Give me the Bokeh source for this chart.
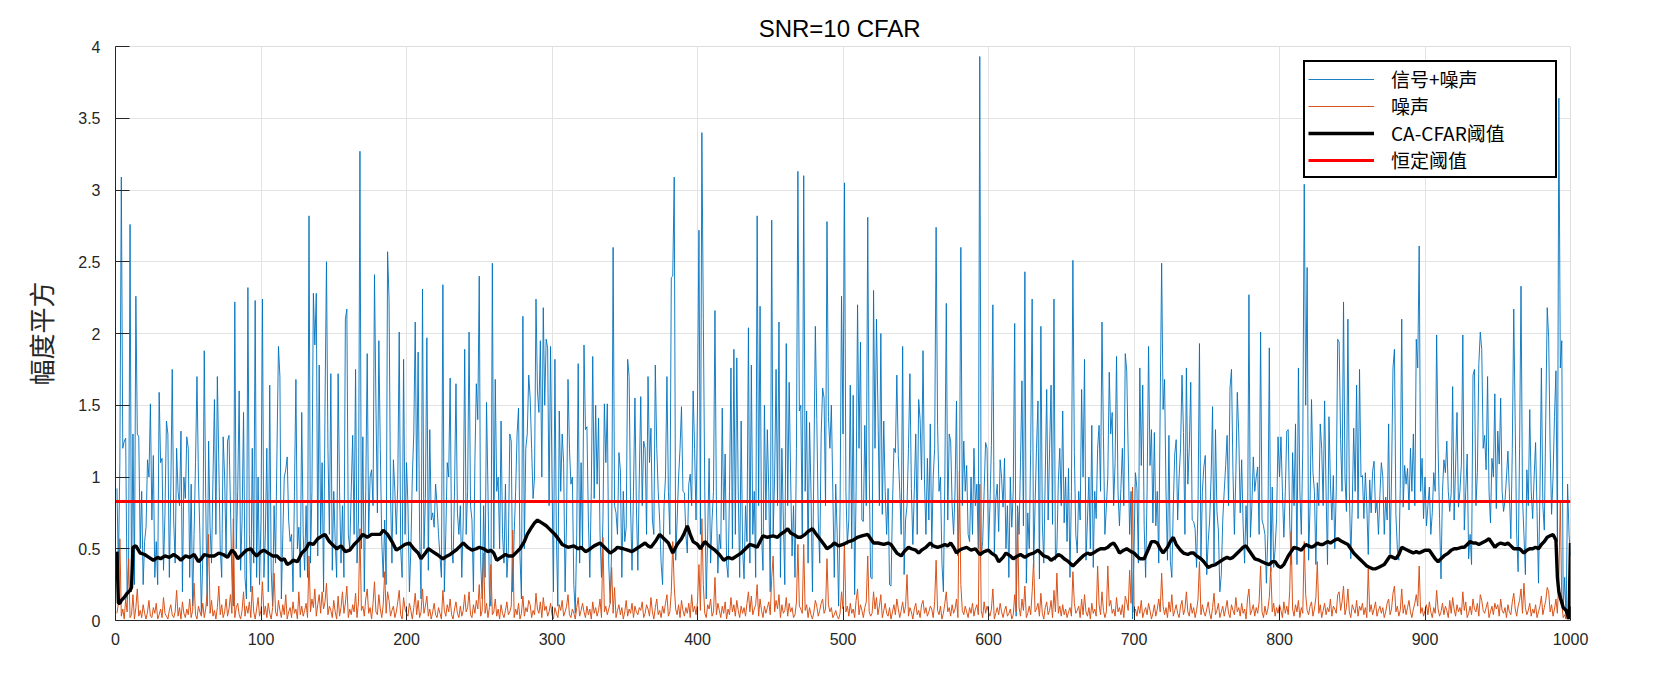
from bokeh.plotting import figure
from bokeh.models import Range1d, FixedTicker, Legend, LegendItem
from bokeh.embed import file_html
from bokeh.resources import INLINE

title_text = "SNR=10  CFAR"
y_label = "幅度平方"
legend_labels = ["信号+噪声", "噪声", "CA-CFAR阈值", "恒定阈值"]

x_ticks = [0, 100, 200, 300, 400, 500, 600, 700, 800, 900, 1000]
y_ticks = [0, 0.5, 1, 1.5, 2, 2.5, 3, 3.5, 4]
y_tick_labels = ["0", "0.5", "1", "1.5", "2", "2.5", "3", "3.5", "4"]

fixed_threshold = 0.83

signal_noise = [
    0.92, 0.35, 1.1, 3.09, 1.2, 1.25, 1.27, 0.15, 0.4, 2.76,
    0.2, 1.3, 0.25, 2.26, 1.3, 1.28, 0.5, 0.9, 0.25, 0.55,
    0.65, 1.12, 1.0, 1.51, 0.7, 1.15, 0.3, 0.55, 0.25, 1.59,
    1.1, 1.13, 0.35, 0.75, 1.39, 1.3, 0.3, 0.9, 1.75, 0.7,
    0.4, 1.2, 0.9, 0.8, 1.32, 0.2, 1.0, 0.85, 1.28, 1.2,
    0.3, 0.95, 0.1, 0.6, 1.1, 1.7, 1.0, 0.6, 0.05, 0.45,
    1.88, 0.85, 0.1, 1.25, 0.65, 0.4, 1.0, 1.54, 0.6, 1.7,
    1.1, 0.5, 0.3, 1.28, 1.0, 0.45, 1.25, 1.29, 0.8, 0.3,
    0.1, 2.22, 0.5, 0.9, 1.6, 0.35, 0.7, 1.45, 0.3, 0.15,
    2.32, 0.6, 0.2, 1.2, 0.4, 2.23, 0.3, 1.0, 0.25, 0.7,
    2.24, 0.3, 0.6, 1.2, 0.2, 1.64, 0.35, 0.1, 0.8, 0.4,
    1.2, 1.91, 1.7, 0.15, 0.6, 1.0, 1.05, 1.14, 0.7, 0.55,
    0.6, 0.2, 0.9, 1.68, 0.5, 0.65, 0.3, 1.45, 0.6, 0.35,
    0.8, 0.3, 2.82, 0.4, 0.9, 2.28, 1.92, 2.28, 0.45, 1.78,
    0.6, 1.1, 0.2, 1.5, 2.5, 1.2, 0.6, 1.72, 0.35, 0.9,
    0.55, 0.3, 1.72, 0.9, 0.4, 0.8, 0.3, 2.1, 2.17, 0.6,
    0.5, 0.9, 1.29, 0.6, 1.75, 0.4, 0.7, 3.27, 0.5, 1.28,
    0.2, 0.9, 1.86, 0.6, 1.0, 1.05, 0.8, 2.41, 1.5, 0.75,
    1.95, 1.2, 0.55, 0.3, 0.7, 0.25, 2.57, 2.24, 0.9, 0.4,
    1.12, 0.9, 0.6, 0.95, 2.01, 0.5, 0.3, 1.82, 0.6, 1.1,
    0.8, 0.2, 0.5, 1.0, 1.3, 2.08, 0.9, 1.87, 0.6, 0.15,
    2.31, 0.5, 0.85, 1.97, 0.35, 1.33, 0.7, 0.75, 0.65, 0.95,
    0.8, 0.6, 0.45, 0.3, 2.34, 0.2, 0.6, 1.1, 1.0, 1.69,
    0.5, 0.4, 0.9, 1.65, 0.75, 0.6, 0.8, 0.3, 0.7, 1.89,
    0.6, 0.9, 2.01, 0.8, 0.7, 0.2, 1.1, 1.65, 1.4, 2.4,
    0.4, 0.15, 0.8, 0.3, 1.52, 0.9, 0.2, 0.1, 2.49, 0.5,
    1.68, 0.9, 1.0, 0.5, 1.39, 0.6, 0.4, 0.95, 0.3, 0.5,
    1.3, 1.25, 0.2, 0.6, 0.9, 1.3, 1.48, 0.45, 0.15, 2.12,
    0.5, 1.2, 1.3, 1.71, 1.55, 1.2, 0.85, 1.0, 2.24, 1.6,
    1.45, 1.95, 1.0, 2.18, 1.5, 1.96, 1.9, 0.8, 1.91, 1.0,
    0.2, 1.82, 0.6, 0.1, 1.46, 0.9, 1.3, 1.1, 0.2, 0.7,
    1.68, 1.2, 0.95, 1.0, 0.25, 0.05, 0.6, 1.79, 0.4, 1.1,
    0.5, 1.92, 1.33, 1.35, 0.7, 0.3, 0.9, 1.84, 0.85, 1.5,
    0.95, 1.41, 0.6, 0.3, 0.7, 1.51, 1.1, 1.51, 0.4, 0.12,
    0.5, 2.6, 0.8, 0.75, 0.6, 1.17, 1.05, 0.3, 0.9, 0.55,
    0.65, 1.82, 1.7, 0.8, 0.35, 0.9, 1.55, 0.8, 0.35, 1.0,
    1.56, 0.8, 1.25, 1.2, 0.6, 1.7, 1.1, 1.34, 0.7, 0.6,
    1.78, 1.2, 0.9, 0.7, 0.4, 0.25, 0.8, 1.0, 1.7, 0.9,
    0.6, 2.39, 2.4, 3.09, 0.42, 0.7, 1.0, 1.2, 1.49, 0.9,
    0.89, 0.6, 0.47, 0.95, 1.02, 0.8, 1.6, 1.2, 0.7, 1.5,
    2.72, 0.6, 3.4, 2.1, 0.9, 0.15, 0.6, 1.13, 0.4, 0.7,
    0.9, 2.16, 0.8, 0.33, 0.6, 0.5, 1.48, 0.7, 1.16, 0.4,
    0.3, 0.9, 1.76, 0.5, 1.89, 0.6, 1.83, 0.9, 0.3, 1.39,
    0.5, 0.29, 0.8, 0.55, 2.04, 0.4, 1.78, 0.6, 0.9, 0.3,
    2.82, 0.8, 2.19, 0.6, 0.35, 1.5, 0.7, 1.33, 0.9, 0.2,
    2.79, 0.6, 1.0, 1.75, 0.8, 2.08, 0.3, 1.2, 0.7, 0.25,
    1.93, 0.8, 1.66, 1.0, 0.45, 0.8, 0.3, 1.2, 3.13, 1.46,
    1.5, 0.6, 3.1, 0.9, 1.46, 0.4, 1.38, 0.9, 0.2, 1.1,
    2.05, 1.4, 0.7, 0.4, 1.3, 1.62, 1.55, 0.8, 2.78, 1.42,
    1.2, 1.5, 0.9, 0.3, 0.95, 0.6, 0.1, 0.8, 2.26, 1.3,
    3.05, 0.9, 0.53, 0.7, 1.64, 0.5, 1.57, 0.18, 0.9, 2.2,
    1.2, 1.94, 0.7, 0.69, 1.36, 0.8, 2.81, 1.07, 0.3, 0.29,
    2.3, 1.2, 2.1, 1.48, 0.8, 2.0, 0.74, 1.39, 0.9, 0.6,
    0.92, 0.25, 0.24, 0.8, 1.2, 1.17, 1.71, 1.15, 0.9, 0.6,
    1.91, 0.32, 0.7, 0.8, 1.2, 1.72, 0.92, 0.53, 0.9, 1.3,
    0.6, 1.54, 1.4, 0.98, 1.88, 0.98, 0.6, 1.13, 0.7, 1.37,
    0.5, 1.0, 1.2, 2.74, 1.36, 0.9, 1.0, 0.4, 0.2, 1.0,
    2.21, 0.7, 1.3, 1.25, 0.8, 0.6, 0.9, 1.53, 0.45, 0.8,
    2.6, 0.8, 1.25, 0.9, 1.08, 0.6, 0.55, 1.0, 0.6, 1.2,
    0.8, 0.95, 0.5, 3.93, 0.45, 0.55, 0.9, 1.24, 1.2, 0.5,
    0.8, 1.22, 2.2, 0.47, 0.84, 0.95, 0.62, 1.12, 0.99, 0.79,
    1.13, 0.5, 0.8, 0.3, 1.0, 0.65, 0.9, 2.07, 0.03, 0.8,
    0.6, 1.1, 1.67, 0.66, 2.43, 0.26, 0.75, 0.5, 1.2, 2.24,
    0.37, 0.8, 1.2, 1.53, 0.29, 2.05, 0.68, 0.4, 1.0, 1.61,
    0.7, 1.2, 1.64, 0.67, 2.24, 0.42, 0.5, 0.97, 1.2, 0.8,
    1.46, 0.68, 1.0, 0.55, 1.06, 0.3, 0.9, 2.51, 1.17, 0.6,
    0.47, 0.9, 0.7, 1.61, 1.0, 1.82, 0.42, 0.7, 1.0, 0.5,
    1.36, 0.37, 0.9, 0.71, 1.2, 1.36, 0.9, 2.08, 1.28, 0.6,
    0.79, 1.0, 1.73, 1.3, 1.45, 0.8, 1.1, 1.84, 0.9, 0.66,
    0.92, 1.2, 0.8, 1.86, 1.74, 1.18, 0.6, 0.9, 0.01, 0.5,
    1.03, 0.92, 0.4, 1.76, 1.08, 1.64, 0.66, 0.3, 0.9, 1.91,
    1.08, 1.33, 0.68, 1.31, 0.66, 0.9, 0.4, 1.5, 2.49, 1.47,
    1.68, 0.9, 0.42, 1.29, 0.41, 0.3, 0.8, 1.16, 1.26, 0.7,
    1.0, 1.2, 1.71, 1.31, 0.6, 1.76, 0.95, 1.2, 1.66, 0.7,
    0.69, 0.64, 0.37, 0.8, 1.93, 0.43, 0.9, 1.07, 1.15, 0.32,
    0.55, 0.7, 1.0, 1.49, 0.4, 1.33, 0.76, 0.63, 0.2, 0.32,
    0.7, 0.9, 1.08, 1.29, 0.8, 1.62, 1.75, 1.04, 0.6, 1.02,
    1.59, 1.3, 0.75, 1.12, 0.67, 0.4, 0.8, 0.5, 2.27, 0.58,
    0.8, 1.14, 0.9, 1.0, 1.07, 0.6, 2.01, 0.7, 0.66, 0.6,
    0.26, 0.6, 1.9, 0.34, 0.93, 0.37, 0.5, 0.71, 1.28, 1.0,
    1.28, 0.9, 0.58, 0.9, 1.32, 1.33, 0.7, 0.39, 1.17, 0.8,
    1.37, 0.39, 1.76, 0.9, 0.6, 1.2, 3.04, 1.5, 2.46, 0.42,
    0.8, 1.54, 1.03, 0.9, 0.39, 0.96, 0.8, 1.37, 1.2, 0.8,
    1.53, 0.9, 0.39, 1.42, 0.95, 0.7, 1.01, 0.5, 0.9, 1.96,
    1.94, 1.26, 0.9, 2.22, 1.0, 0.76, 2.1, 0.9, 0.43, 0.8,
    1.34, 0.9, 1.64, 0.71, 1.75, 1.0, 1.01, 0.71, 1.03, 0.8,
    0.46, 0.98, 0.75, 1.04, 1.11, 0.75, 0.83, 0.6, 0.87, 1.1,
    1.0, 0.6, 0.86, 0.7, 1.37, 0.46, 1.0, 1.76, 1.89, 0.74,
    0.5, 0.42, 0.92, 2.1, 0.79, 1.08, 0.95, 1.06, 0.77, 1.2,
    0.9, 1.3, 0.8, 1.96, 1.76, 2.61, 0.9, 1.13, 0.71, 1.0,
    0.66, 0.8, 0.93, 0.6, 0.75, 1.03, 0.9, 1.99, 1.2, 0.71,
    0.29, 0.9, 1.12, 1.03, 1.25, 0.9, 0.76, 0.89, 1.63, 0.7,
    1.07, 1.45, 0.79, 0.9, 1.09, 1.99, 0.63, 0.9, 1.16, 0.43,
    0.6, 0.39, 1.71, 1.75, 0.8, 1.03, 1.79, 2.01, 1.89, 1.2,
    1.29, 1.05, 1.7, 0.9, 0.68, 1.13, 1.0, 1.58, 0.78, 1.32,
    1.09, 1.55, 0.9, 0.76, 0.84, 1.0, 1.18, 0.89, 0.57, 1.2,
    2.17, 1.37, 0.6, 0.34, 1.2, 2.33, 0.86, 0.6, 0.32, 1.05,
    0.8, 1.47, 0.9, 0.71, 1.0, 1.24, 0.76, 0.26, 0.9, 1.76,
    0.8, 0.63, 1.4, 2.18, 1.97, 1.2, 0.74, 1.0, 1.42, 1.74,
    0.55, 3.64, 1.76, 1.95, 0.08, 0.3, 0.01, 0.95, 0.6, 0.45,
]

noise = [
    0.05, 0.12, 0.57, 0.03, 0.08, 0.01, 0.15, 0.06, 0.43, 0.02,
    0.04, 0.18, 0.01, 0.09, 0.22, 0.03, 0.07, 0.02, 0.11, 0.05,
    0.01, 0.06, 0.14, 0.03, 0.02, 0.09, 0.05, 0.12, 0.01, 0.04,
    0.08, 0.02, 0.16, 0.05, 0.03, 0.01, 0.07, 0.11, 0.04, 0.02,
    0.06, 0.21, 0.03, 0.09, 0.01, 0.13, 0.05, 0.02, 0.08, 0.04,
    0.15, 0.02, 0.07, 0.26, 0.04, 0.01, 0.1, 0.06, 0.03, 0.12,
    0.02, 0.08, 0.19, 0.6, 0.05, 0.14, 0.03, 0.07, 0.01, 0.09,
    0.24, 0.04, 0.11, 0.02, 0.06, 0.15, 0.03, 0.08, 0.18, 0.05,
    0.71, 0.02, 0.09, 0.12, 0.04, 0.01, 0.07, 0.2, 0.03, 0.1,
    0.05, 0.13, 0.02, 0.24, 0.06, 0.01, 0.08, 0.16, 0.03, 0.07,
    0.27, 0.04, 0.1, 0.02, 0.12, 0.05, 0.01, 0.09, 0.33, 0.06,
    0.03, 0.14, 0.07, 0.02, 0.11, 0.04, 0.18, 0.01, 0.06, 0.09,
    0.02, 0.13, 0.05, 0.08, 0.01, 0.2, 0.04, 0.1, 0.03, 0.07,
    0.12, 0.02, 0.45, 0.06, 0.15, 0.09, 0.22, 0.03, 0.11, 0.18,
    0.05, 0.2, 0.08, 0.13, 0.26, 0.04, 0.1, 0.07, 0.02, 0.14,
    0.06, 0.01, 0.17, 0.03, 0.09, 0.2, 0.05, 0.12, 0.24, 0.02,
    0.08, 0.04, 0.11, 0.06, 0.19, 0.02, 0.13, 0.64, 0.07, 0.1,
    0.03, 0.15, 0.22, 0.05, 0.09, 0.01, 0.12, 0.27, 0.06, 0.04,
    0.18, 0.08, 0.02, 0.11, 0.34, 0.05, 0.2, 0.14, 0.03, 0.07,
    0.1, 0.02, 0.06, 0.13, 0.21, 0.04, 0.01, 0.16, 0.08, 0.05,
    0.03, 0.12, 0.07, 0.01, 0.09, 0.19, 0.04, 0.14, 0.02, 0.06,
    0.22, 0.05, 0.1, 0.17, 0.03, 0.08, 0.01, 0.06, 0.12, 0.04,
    0.02, 0.09, 0.05, 0.01, 0.21, 0.07, 0.03, 0.11, 0.06, 0.15,
    0.04, 0.01, 0.08, 0.13, 0.05, 0.02, 0.1, 0.03, 0.07, 0.18,
    0.06, 0.09, 0.2, 0.04, 0.02, 0.11, 0.05, 0.14, 0.08, 0.25,
    0.03, 0.07, 0.47, 0.05, 0.12, 0.02, 0.09, 0.39, 0.04, 0.06,
    0.15, 0.03, 0.08, 0.01, 0.11, 0.05, 0.02, 0.07, 0.13, 0.04,
    0.06, 0.1, 0.63, 0.02, 0.08, 0.04, 0.12, 0.01, 0.05, 0.17,
    0.03, 0.09, 0.06, 0.14, 0.11, 0.02, 0.07, 0.04, 0.19, 0.08,
    0.05, 0.13, 0.02, 0.16, 0.07, 0.1, 0.03, 0.06, 0.12, 0.04,
    0.01, 0.09, 0.05, 0.02, 0.11, 0.07, 0.14, 0.03, 0.06, 0.1,
    0.18, 0.04, 0.02, 0.08, 0.05, 0.01, 0.09, 0.16, 0.03, 0.07,
    0.12, 0.06, 0.02, 0.1, 0.04, 0.08, 0.01, 0.13, 0.05, 0.09,
    0.03, 0.07, 0.15, 0.02, 0.58, 0.06, 0.1, 0.04, 0.08, 0.12,
    0.37, 0.05, 0.23, 0.02, 0.07, 0.11, 0.04, 0.09, 0.01, 0.06,
    0.14, 0.03, 0.08, 0.05, 0.12, 0.02, 0.1, 0.06, 0.04, 0.09,
    0.07, 0.13, 0.02, 0.05, 0.11, 0.08, 0.03, 0.16, 0.06, 0.01,
    0.09, 0.15, 0.04, 0.07, 0.02, 0.1, 0.05, 0.12, 0.18, 0.03,
    0.06, 0.2, 0.55, 0.24, 0.08, 0.04, 0.11, 0.02, 0.14, 0.07,
    0.03, 0.09, 0.05, 0.12, 0.02, 0.18, 0.06, 0.1, 0.04, 0.13,
    0.39, 0.07, 0.71, 0.25, 0.05, 0.02, 0.11, 0.08, 0.15, 0.03,
    0.06, 0.3, 0.04, 0.12, 0.07, 0.02, 0.1, 0.05, 0.13, 0.01,
    0.08, 0.04, 0.16, 0.06, 0.11, 0.03, 0.14, 0.07, 0.02, 0.1,
    0.05, 0.09, 0.03, 0.12, 0.2, 0.06, 0.17, 0.04, 0.08, 0.11,
    0.25, 0.03, 0.15, 0.07, 0.02, 0.1, 0.05, 0.09, 0.13, 0.04,
    0.3, 0.45, 0.06, 0.14, 0.08, 0.18, 0.02, 0.11, 0.05, 0.07,
    0.16, 0.03, 0.12, 0.06, 0.09, 0.02, 0.04, 0.13, 0.53, 0.1,
    0.08, 0.05, 0.53, 0.07, 0.11, 0.02, 0.09, 0.04, 0.01, 0.06,
    0.14, 0.1, 0.03, 0.07, 0.12, 0.15, 0.05, 0.08, 0.43, 0.11,
    0.06, 0.09, 0.02, 0.04, 0.07, 0.03, 0.01, 0.05, 0.2, 0.08,
    0.53, 0.06, 0.1, 0.03, 0.12, 0.05, 0.08, 0.02, 0.14, 0.22,
    0.04, 0.11, 0.07, 0.02, 0.09, 0.13, 0.45, 0.06, 0.03, 0.05,
    0.2, 0.08, 0.16, 0.04, 0.1, 0.18, 0.02, 0.07, 0.12, 0.05,
    0.03, 0.09, 0.01, 0.06, 0.11, 0.04, 0.15, 0.08, 0.02, 0.07,
    0.13, 0.05, 0.1, 0.32, 0.03, 0.09, 0.06, 0.01, 0.08, 0.12,
    0.04, 0.07, 0.02, 0.11, 0.14, 0.05, 0.09, 0.03, 0.06, 0.1,
    0.08, 0.02, 0.13, 0.42, 0.07, 0.04, 0.1, 0.01, 0.05, 0.12,
    0.2, 0.06, 0.09, 0.03, 0.11, 0.05, 0.08, 0.15, 0.02, 1.04,
    0.25, 0.07, 0.04, 0.1, 0.06, 0.02, 0.09, 0.05, 0.12, 0.03,
    0.08, 0.11, 0.04, 0.95, 0.07, 0.02, 0.13, 0.05, 0.1, 0.06,
    0.03, 0.08, 0.22, 0.01, 0.05, 0.09, 0.04, 0.12, 0.06, 0.02,
    0.07, 0.1, 0.03, 0.05, 0.08, 0.01, 0.04, 0.18, 0.06, 0.76,
    0.09, 0.03, 0.15, 0.07, 0.24, 0.02, 0.05, 0.1, 0.04, 0.2,
    0.42, 0.06, 0.08, 0.12, 0.03, 0.19, 0.05, 0.01, 0.09, 0.13,
    0.04, 0.07, 0.14, 0.02, 0.21, 0.06, 0.33, 0.05, 0.1, 0.03,
    0.11, 0.04, 0.08, 0.02, 0.06, 0.09, 0.03, 0.34, 0.12, 0.05,
    0.07, 0.1, 0.02, 0.15, 0.04, 0.18, 0.06, 0.03, 0.09, 0.01,
    0.12, 0.05, 0.08, 0.03, 0.38, 0.11, 0.04, 0.2, 0.07, 0.02,
    0.06, 0.38, 0.1, 0.14, 0.05, 0.08, 0.03, 0.16, 0.06, 0.09,
    0.04, 0.11, 0.02, 0.17, 0.13, 0.07, 0.35, 0.12, 0.93, 0.06,
    0.08, 0.03, 0.1, 0.05, 0.14, 0.02, 0.06, 0.09, 0.04, 0.12,
    0.07, 0.01, 0.05, 0.11, 0.03, 0.08, 0.15, 0.06, 0.33, 0.1,
    0.04, 0.09, 0.02, 0.13, 0.06, 0.18, 0.03, 0.07, 0.11, 0.05,
    0.02, 0.1, 0.14, 0.04, 0.08, 0.2, 0.06, 0.03, 0.12, 0.05,
    0.09, 0.02, 0.07, 0.15, 0.41, 0.04, 0.11, 0.06, 0.03, 0.08,
    0.13, 0.05, 0.01, 0.09, 0.19, 0.04, 0.07, 0.12, 0.02, 0.06,
    0.1, 0.03, 0.08, 0.14, 0.05, 0.02, 0.11, 0.07, 0.04, 0.16,
    0.06, 0.09, 0.03, 0.12, 0.05, 0.08, 0.01, 0.15, 0.22, 0.04,
    0.07, 0.11, 0.03, 0.09, 0.05, 0.13, 0.38, 0.06, 0.02, 0.1,
    0.04, 0.08, 0.16, 0.37, 0.06, 0.12, 0.03, 0.09, 0.05, 0.11,
    0.07, 0.02, 0.13, 0.05, 0.1, 0.04, 0.2, 0.62, 0.08, 0.03,
    0.11, 0.06, 0.14, 0.02, 0.09, 0.05, 0.55, 0.18, 0.07, 0.04,
    0.1, 0.13, 0.03, 0.08, 0.16, 0.41, 0.05, 0.11, 0.02, 0.07,
    0.12, 0.04, 0.09, 0.06, 0.15, 0.03, 0.1, 0.08, 0.05, 0.18,
    0.2, 0.07, 0.13, 0.24, 0.04, 0.09, 0.22, 0.06, 0.02, 0.11,
    0.08, 0.05, 0.14, 0.03, 0.1, 0.07, 0.12, 0.04, 0.09, 0.02,
    0.36, 0.06, 0.11, 0.04, 0.08, 0.13, 0.03, 0.07, 0.1, 0.05,
    0.09, 0.02, 0.06, 0.12, 0.15, 0.04, 0.08, 0.19, 0.24, 0.06,
    0.1, 0.03, 0.07, 0.22, 0.05, 0.11, 0.04, 0.09, 0.14, 0.06,
    0.02, 0.08, 0.12, 0.18, 0.1, 0.38, 0.05, 0.09, 0.03, 0.07,
    0.11, 0.04, 0.13, 0.06, 0.02, 0.09, 0.05, 0.21, 0.08, 0.03,
    0.06, 0.12, 0.04, 0.1, 0.07, 0.02, 0.14, 0.05, 0.16, 0.08,
    0.03, 0.11, 0.06, 0.09, 0.04, 0.2, 0.07, 0.13, 0.02, 0.05,
    0.1, 0.04, 0.15, 0.08, 0.06, 0.12, 0.03, 0.18, 0.14, 0.07,
    0.05, 0.09, 0.13, 0.02, 0.06, 0.1, 0.04, 0.12, 0.08, 0.11,
    0.03, 0.15, 0.07, 0.05, 0.09, 0.02, 0.11, 0.06, 0.04, 0.13,
    0.19, 0.08, 0.03, 0.1, 0.14, 0.22, 0.05, 0.26, 0.09, 0.04,
    0.07, 0.12, 0.03, 0.08, 0.05, 0.11, 0.02, 0.06, 0.1, 0.17,
    0.04, 0.09, 0.14, 0.23, 0.2, 0.06, 0.11, 0.03, 0.08, 0.15,
    0.05, 0.3, 0.83, 0.12, 0.02, 0.04, 0.01, 0.07, 0.05, 0.03,
]

cfar_x = [
    1, 2, 3, 4, 6, 8, 10, 11, 12, 14, 17, 20, 23, 26, 29, 31, 34, 37, 40, 43,
    45, 48, 51, 54, 57, 59, 61, 64, 68, 71, 74, 77, 80, 82, 84, 86, 88, 90, 93, 95,
    97, 100, 102, 105, 108, 111, 114, 116, 118, 120, 122, 125, 128, 131, 133, 136, 139, 142, 144, 147,
    150, 152, 155, 158, 161, 164, 167, 170, 173, 176, 179, 182, 184, 187, 190, 193, 196, 199, 202, 205,
    208, 210, 213, 215, 218, 221, 225, 228, 230, 234, 237, 239, 242, 245, 248, 250, 253, 256, 258, 260,
    262, 265, 268, 270, 273, 276, 278, 281, 283, 286, 288, 290, 293, 296, 298, 300, 302, 305, 307, 311,
    315, 318, 320, 323, 325, 329, 333, 336, 340, 343, 345, 349, 352, 355, 358, 361, 364, 366, 368, 371,
    374, 377, 380, 383, 386, 389, 391, 393, 395, 397, 400, 402, 405, 408, 412, 415, 418, 421, 424, 427,
    430, 433, 436, 439, 441, 443, 445, 448, 452, 455, 457, 460, 462, 464, 466, 469, 471, 474, 476, 479,
    481, 484, 487, 489, 492, 494, 497, 500, 502, 504, 507, 510, 513, 517, 519, 521, 524, 528, 531, 533,
    535, 537, 540, 542, 545, 547, 550, 552, 554, 557, 560, 562, 565, 568, 570, 572, 574, 576, 578, 580,
    582, 585, 588, 591, 594, 597, 600, 602, 605, 607, 610, 612, 615, 617, 620, 622, 625, 628, 631, 634,
    636, 638, 641, 643, 646, 648, 650, 652, 655, 658, 660, 663, 665, 668, 670, 672, 675, 677, 680, 682,
    684, 686, 688, 690, 693, 695, 698, 700, 702, 704, 707, 710, 712, 714, 716, 718, 720, 723, 725, 727,
    729, 732, 734, 737, 739, 741, 743, 746, 748, 751, 753, 756, 759, 762, 764, 766, 768, 770, 773, 775,
    777, 779, 781, 783, 786, 788, 790, 793, 795, 797, 799, 801, 803, 806, 808, 810, 813, 815, 818, 820,
    822, 824, 826, 828, 830, 833, 835, 838, 840, 843, 845, 847, 849, 851, 853, 856, 858, 860, 862, 864,
    866, 868, 870, 872, 874, 876, 878, 880, 882, 884, 886, 888, 890, 892, 894, 896, 898, 900, 903, 905,
    907, 909, 911, 913, 916, 918, 920, 922, 925, 927, 929, 931, 933, 935, 937, 939, 941, 944, 946, 948,
    950, 952, 955, 957, 959, 961, 963, 965, 968, 970, 972, 974, 976, 978, 980, 982, 984, 986, 988, 990,
    991, 992, 993, 995, 997, 998, 999, 1000,
]

cfar_y = [
    0.48, 0.12, 0.12, 0.14, 0.16, 0.19, 0.21, 0.23, 0.51, 0.52, 0.47, 0.46, 0.44, 0.42, 0.44, 0.43, 0.45, 0.44, 0.46, 0.44,
    0.42, 0.45, 0.44, 0.46, 0.41, 0.43, 0.46, 0.45, 0.45, 0.47, 0.46, 0.44, 0.49, 0.47, 0.43, 0.45, 0.47, 0.49, 0.5, 0.47,
    0.45, 0.48, 0.49, 0.47, 0.45, 0.45, 0.42, 0.43, 0.39, 0.4, 0.42, 0.41, 0.47, 0.5, 0.54, 0.53, 0.57, 0.59, 0.6, 0.55,
    0.52, 0.5, 0.52, 0.48, 0.49, 0.53, 0.56, 0.6, 0.58, 0.6, 0.6, 0.6, 0.63, 0.6, 0.55, 0.49, 0.51, 0.53, 0.54, 0.5,
    0.47, 0.43, 0.47, 0.5, 0.48, 0.46, 0.43, 0.45, 0.46, 0.49, 0.52, 0.54, 0.51, 0.49, 0.5, 0.51, 0.5, 0.48, 0.49, 0.47,
    0.42, 0.44, 0.46, 0.45, 0.45, 0.48, 0.5, 0.55, 0.6, 0.65, 0.68, 0.7, 0.68, 0.66, 0.64, 0.62, 0.6, 0.56, 0.53, 0.51,
    0.52, 0.5, 0.51, 0.48, 0.49, 0.52, 0.54, 0.51, 0.47, 0.49, 0.51, 0.5, 0.49, 0.48, 0.5, 0.52, 0.54, 0.52, 0.51, 0.55,
    0.6, 0.57, 0.54, 0.47, 0.53, 0.57, 0.61, 0.66, 0.6, 0.55, 0.53, 0.5, 0.55, 0.52, 0.49, 0.46, 0.42, 0.44, 0.43, 0.45,
    0.47, 0.5, 0.53, 0.52, 0.51, 0.55, 0.59, 0.58, 0.59, 0.58, 0.6, 0.62, 0.64, 0.61, 0.6, 0.58, 0.58, 0.6, 0.62, 0.64,
    0.61, 0.57, 0.53, 0.5, 0.52, 0.54, 0.52, 0.53, 0.54, 0.55, 0.56, 0.58, 0.59, 0.6, 0.57, 0.54, 0.54, 0.53, 0.54, 0.53,
    0.5, 0.47, 0.45, 0.48, 0.51, 0.5, 0.49, 0.47, 0.49, 0.51, 0.54, 0.52, 0.51, 0.52, 0.53, 0.52, 0.54, 0.51, 0.47, 0.49,
    0.5, 0.51, 0.49, 0.5, 0.46, 0.48, 0.49, 0.47, 0.45, 0.41, 0.44, 0.47, 0.45, 0.43, 0.45, 0.46, 0.44, 0.46, 0.47, 0.49,
    0.47, 0.45, 0.44, 0.42, 0.44, 0.46, 0.45, 0.43, 0.41, 0.38, 0.4, 0.43, 0.45, 0.47, 0.46, 0.47, 0.49, 0.5, 0.5, 0.51,
    0.53, 0.54, 0.51, 0.47, 0.49, 0.5, 0.48, 0.47, 0.45, 0.43, 0.43, 0.5, 0.55, 0.55, 0.54, 0.5, 0.47, 0.51, 0.55, 0.58,
    0.53, 0.49, 0.47, 0.46, 0.47, 0.47, 0.45, 0.43, 0.41, 0.37, 0.38, 0.39, 0.41, 0.43, 0.44, 0.43, 0.44, 0.46, 0.49, 0.51,
    0.52, 0.49, 0.46, 0.43, 0.42, 0.41, 0.4, 0.39, 0.41, 0.41, 0.38, 0.37, 0.39, 0.45, 0.48, 0.51, 0.5, 0.49, 0.53, 0.52,
    0.51, 0.52, 0.54, 0.53, 0.53, 0.55, 0.54, 0.56, 0.57, 0.55, 0.54, 0.53, 0.5, 0.47, 0.45, 0.42, 0.4, 0.38, 0.37, 0.36,
    0.36, 0.37, 0.38, 0.39, 0.42, 0.45, 0.44, 0.43, 0.46, 0.51, 0.5, 0.49, 0.48, 0.47, 0.48, 0.47, 0.48, 0.49, 0.49, 0.46,
    0.43, 0.41, 0.43, 0.45, 0.47, 0.49, 0.5, 0.5, 0.51, 0.51, 0.53, 0.55, 0.54, 0.54, 0.53, 0.54, 0.55, 0.57, 0.54, 0.51,
    0.53, 0.54, 0.53, 0.54, 0.52, 0.5, 0.5, 0.5, 0.47, 0.49, 0.5, 0.5, 0.51, 0.5, 0.53, 0.55, 0.58, 0.59, 0.6, 0.56,
    0.3, 0.2, 0.16, 0.09, 0.07, 0.04, 0.01, 0.54,
]

x_sig = list(range(1, len(signal_noise) + 1))
x_noise = list(range(1, len(noise) + 1))
x_fixed = [x_ticks[0], x_ticks[-1]]
y_fixed = [fixed_threshold, fixed_threshold]
n = min(len(cfar_x), len(cfar_y))

p = figure(width=1641, height=682, x_range=Range1d(0, 1000), y_range=Range1d(0, 4),
           output_backend="svg", toolbar_location=None,
           min_border_left=115, min_border_right=71, min_border_top=46, min_border_bottom=62)
p.background_fill_color = "white"
p.border_fill_color = "white"
p.outline_line_color = "#dedede"

r_sig = p.line(x_sig, signal_noise, line_color="#0072BD", line_width=0.9)
r_noise = p.line(x_noise, noise, line_color="#D95319", line_width=1.0)
r_cfar = p.line(cfar_x[:n], cfar_y[:n], line_color="black", line_width=3.4)
r_fixed = p.line(x_fixed, y_fixed, line_color="#FF0000", line_width=3)

p.title.text = title_text
p.title.align = "center"
p.title.text_font = "Liberation Sans"
p.title.text_font_size = "24px"
p.title.text_font_style = "normal"
p.title.text_color = "#000000"

p.xaxis.ticker = FixedTicker(ticks=x_ticks)
p.yaxis.ticker = FixedTicker(ticks=y_ticks)
p.yaxis.major_label_overrides = {t: s for t, s in zip(y_ticks, y_tick_labels)}
for ax in (p.xaxis, p.yaxis):
    ax.axis_line_color = "#262626"
    ax.axis_line_width = 1
    ax.major_tick_line_color = "#262626"
    ax.major_tick_in = 14
    ax.major_tick_out = 0
    ax.minor_tick_line_color = None
    ax.major_label_text_font = "Liberation Sans"
    ax.major_label_text_font_size = "16px"
    ax.major_label_text_color = "#262626"
p.xaxis.major_label_standoff = 12
p.yaxis.major_label_standoff = 15

p.yaxis.axis_label = y_label
p.yaxis.axis_label_text_font = "Noto Sans CJK SC"
p.yaxis.axis_label_text_font_size = "26px"
p.yaxis.axis_label_text_font_style = "normal"
p.yaxis.axis_label_text_color = "#262626"
p.yaxis.axis_label_standoff = 16

p.xgrid.grid_line_color = "#e3e3e3"
p.ygrid.grid_line_color = "#e3e3e3"

legend = Legend(items=[
    LegendItem(label=legend_labels[0], renderers=[r_sig]),
    LegendItem(label=legend_labels[1], renderers=[r_noise]),
    LegendItem(label=legend_labels[2], renderers=[r_cfar]),
    LegendItem(label=legend_labels[3], renderers=[r_fixed]),
], location=(1188, 442))
legend.label_text_font = "Noto Sans CJK SC"
legend.label_text_font_size = "19px"
legend.label_text_color = "#000000"
legend.border_line_color = "black"
legend.border_line_alpha = 1.0
legend.border_line_width = 2
legend.background_fill_color = "white"
legend.background_fill_alpha = 1
legend.glyph_width = 66
legend.glyph_height = 20
legend.spacing = 0
legend.padding = 3
legend.margin = 0
legend.label_standoff = 17
legend.label_width = 161
legend.label_height = 20
p.add_layout(legend)

open("out.html", "w").write(file_html(p, INLINE))
